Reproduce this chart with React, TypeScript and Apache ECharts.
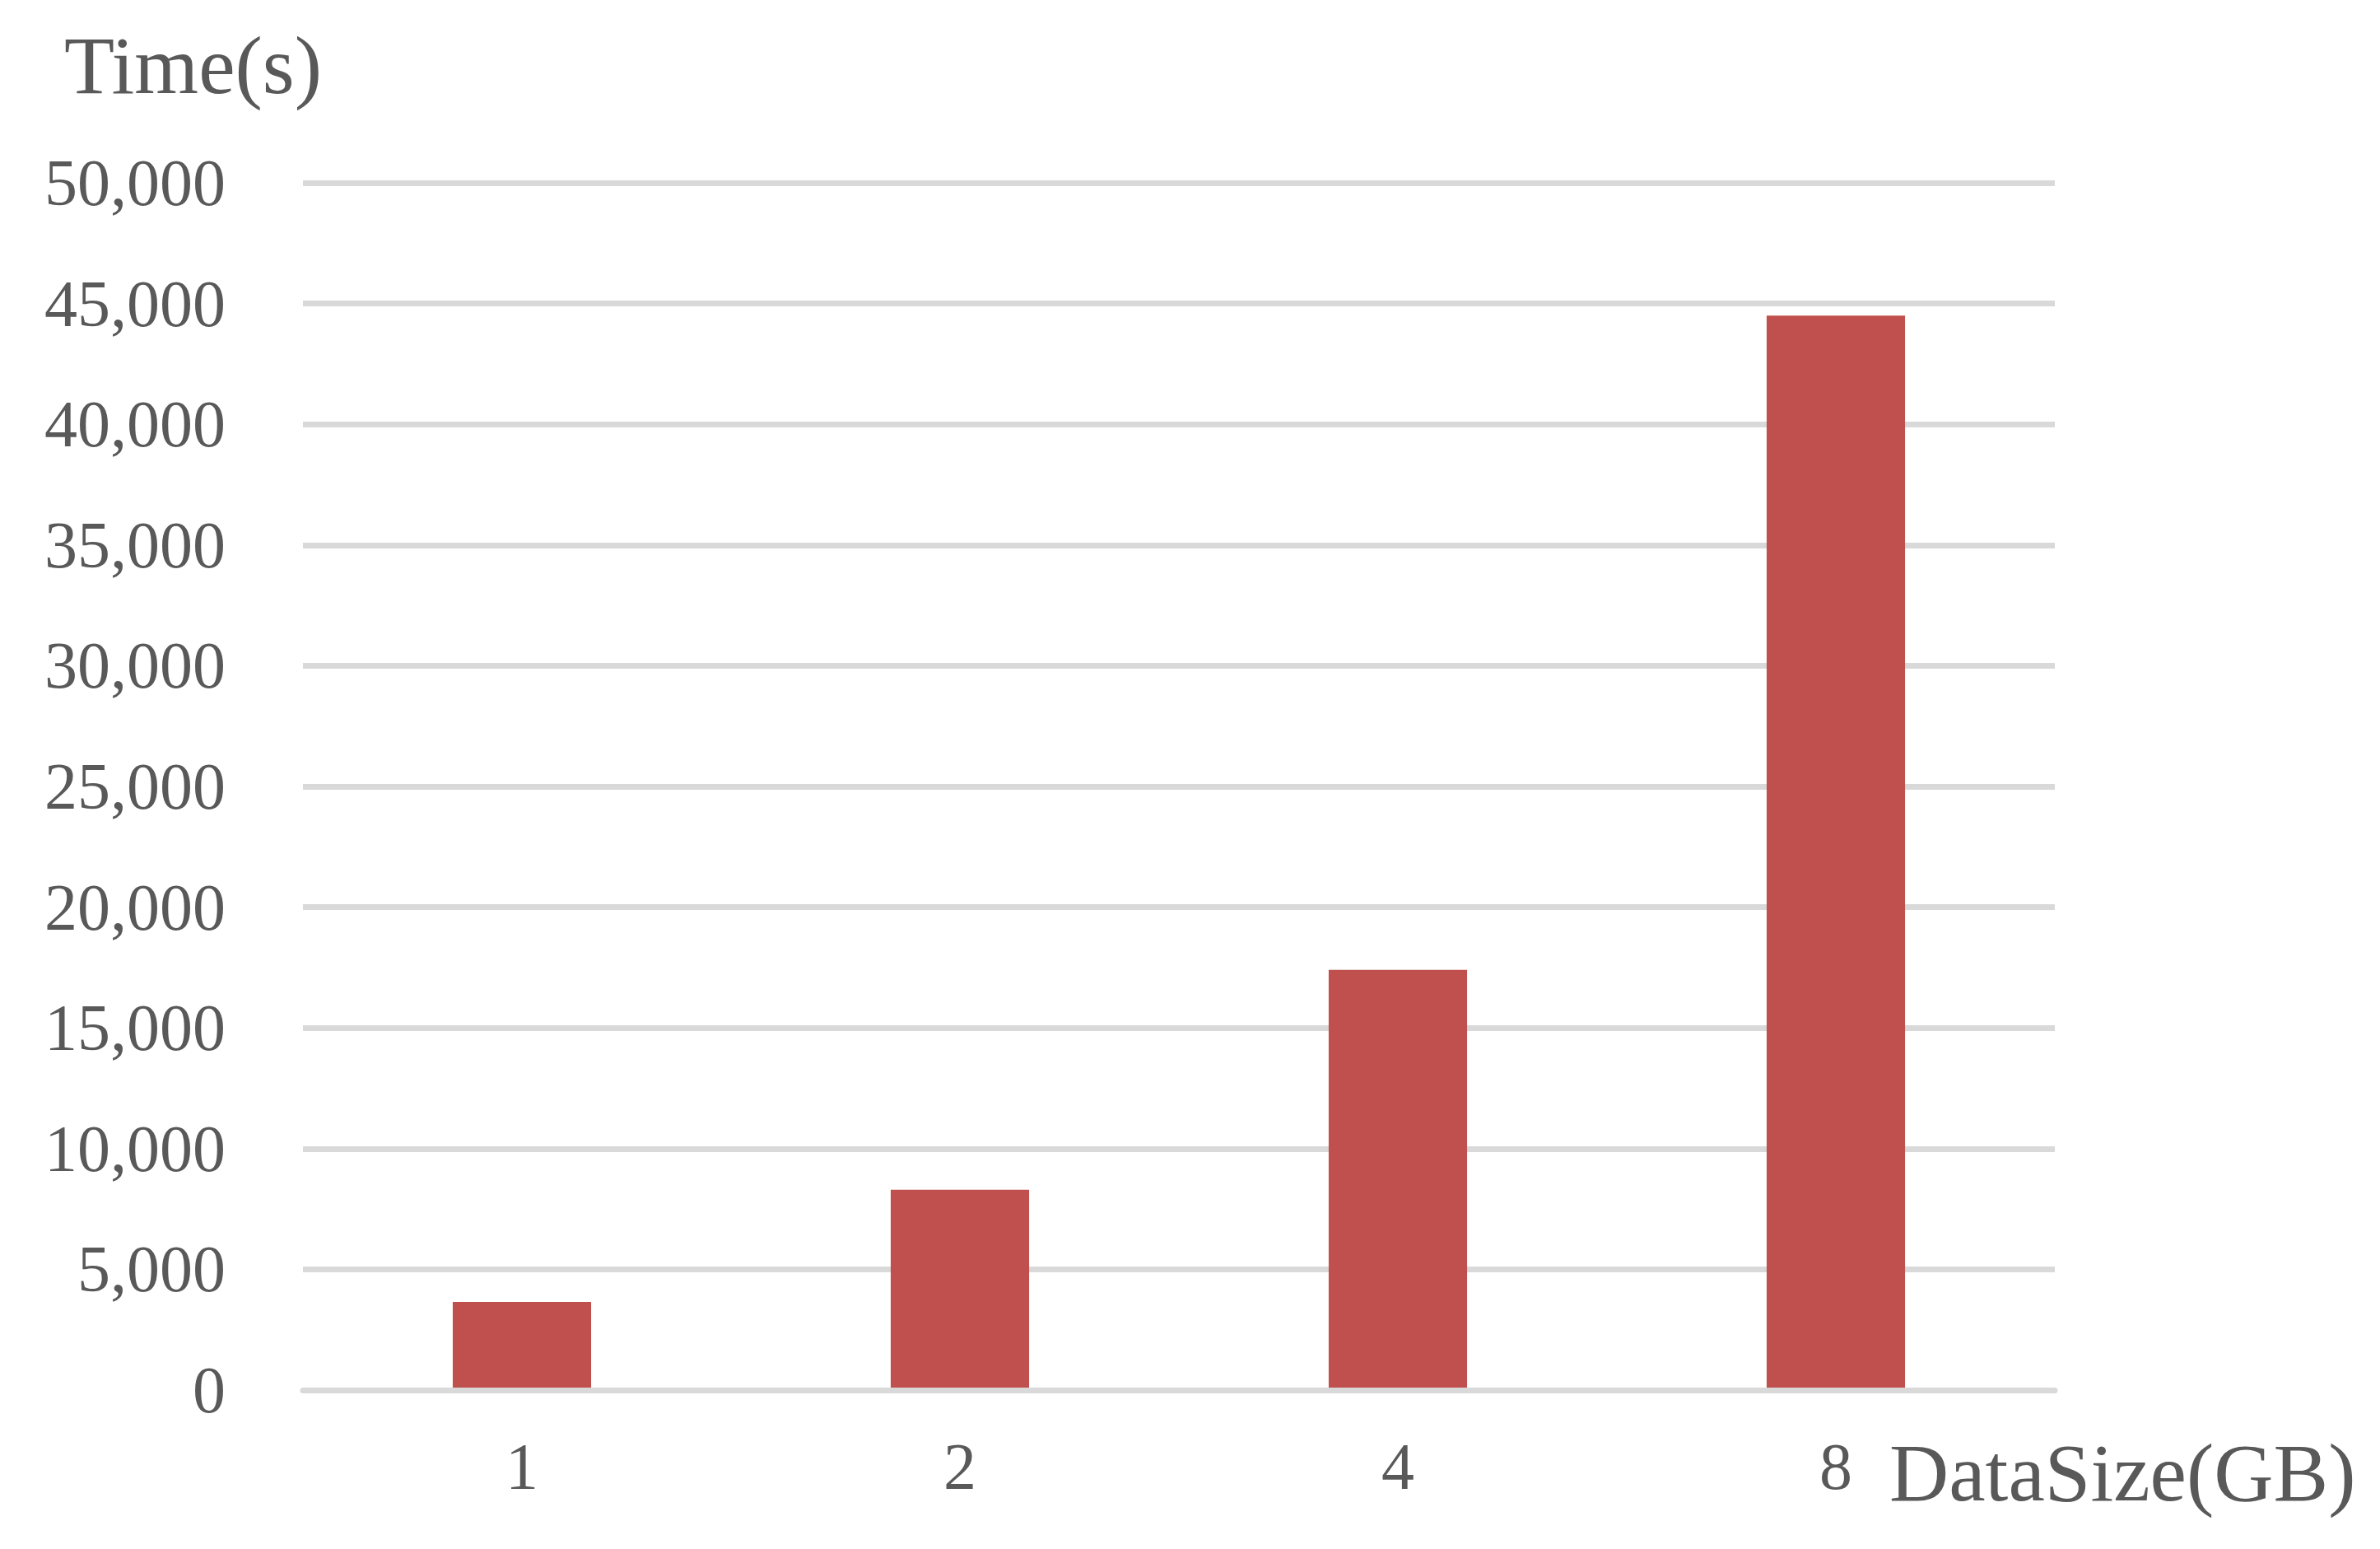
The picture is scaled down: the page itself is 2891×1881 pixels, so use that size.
import React, { useEffect, useRef } from "react";
import * as echarts from "echarts";

const categories = ["1", "2", "4", "8"];
const timeValues = [3650, 8300, 17400, 44500];
const yTicksMax = 50000;
const yTickStep = 5000;
const yAxisTitle = "Time(s)";
const xAxisTitle = "DataSize(GB)";

const FONT = '"Liberation Serif", "Times New Roman", serif';
const TEXT = "#595959";
const GRID = "#D9D9D9";

export default function App() {
  const ref = useRef<HTMLDivElement>(null);
  useEffect(() => {
    if (!ref.current) return;
    const chart = echarts.init(ref.current, undefined, { renderer: "svg" });
    chart.setOption({
      animation: false,
      backgroundColor: "#FFFFFF",
      grid: { left: 368, right: 395, top: 222, bottom: 193, containLabel: false },
      xAxis: {
        type: "category",
        data: categories,
        z: 5,
        axisTick: { show: false },
        axisLine: { show: true, lineStyle: { color: GRID, width: 7 } },
        axisLabel: { fontSize: 80, fontFamily: FONT, color: TEXT, margin: 53 },
      },
      yAxis: {
        type: "value",
        min: 0,
        max: yTicksMax,
        interval: yTickStep,
        axisLine: { show: false },
        axisTick: { show: false },
        axisLabel: {
          fontSize: 80,
          fontFamily: FONT,
          color: TEXT,
          margin: 94,
          formatter: (v: number) => v.toLocaleString("en-US"),
        },
        splitLine: { show: true, lineStyle: { color: GRID, width: 7 } },
      },
      series: [
        {
          type: "bar",
          data: timeValues,
          barWidth: "31.6%",
          itemStyle: { color: "#C0504D" },
          z: 2,
        },
      ],
      graphic: [
        {
          type: "text",
          x: 78,
          y: 79,
          style: {
            text: yAxisTitle,
            fontSize: 100,
            fontFamily: FONT,
            fill: TEXT,
            align: "left",
            verticalAlign: "middle",
          },
        },
        {
          type: "text",
          x: 2295,
          y: 1788,
          style: {
            text: xAxisTitle,
            fontSize: 100,
            fontFamily: FONT,
            fill: TEXT,
            align: "left",
            verticalAlign: "middle",
          },
        },
      ],
    });
    return () => chart.dispose();
  }, []);
  return (
    <div
      ref={ref}
      style={{ position: "absolute", left: 0, top: 0, width: 2891, height: 1881 }}
    />
  );
}
